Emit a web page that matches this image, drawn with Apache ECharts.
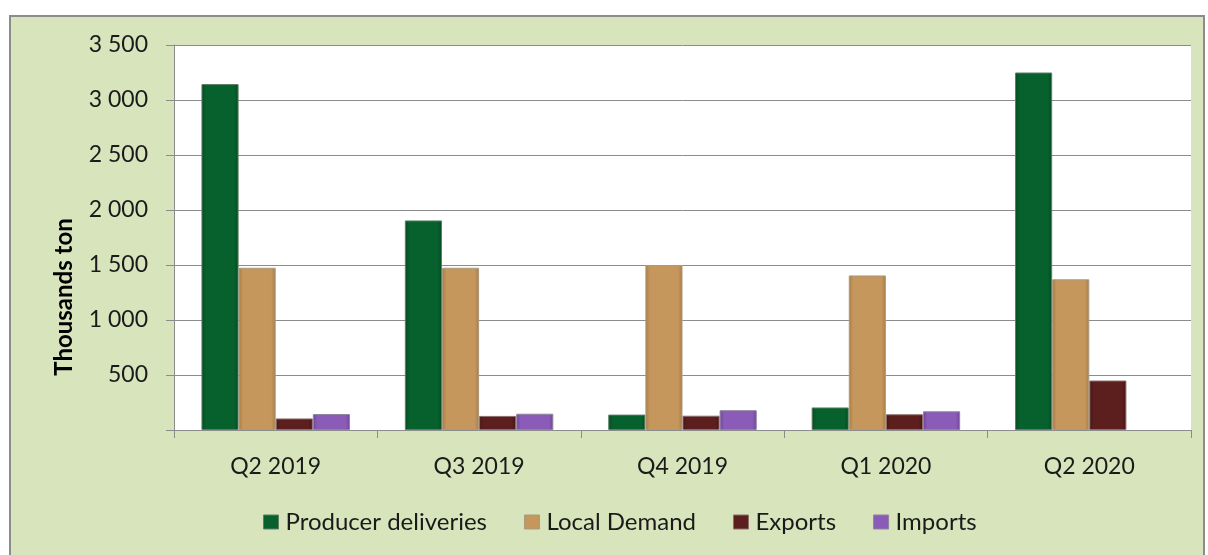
<!DOCTYPE html>
<html>
<head>
<meta charset="utf-8">
<script src="https://cdn.jsdelivr.net/npm/echarts@6/dist/echarts.min.js"></script>
<style>
html,body{margin:0;padding:0;background:#fff;}
#frame{position:absolute;left:9px;top:15px;width:1196px;height:545px;box-sizing:border-box;border:2px solid #8c8c8c;background:#D8E4BC;}
#chart{position:absolute;left:0;top:0;width:1208px;height:555px;}
</style>
</head>
<body>
<div id="frame"></div>
<div id="chart"></div>
<script>
const categories = ['Q2 2019', 'Q3 2019', 'Q4 2019', 'Q1 2020', 'Q2 2020'];
const producerDeliveries = [3145, 1905, 140, 205, 3250];
const localDemand = [1475, 1475, 1500, 1405, 1370];
const exportsData = [105, 128, 130, 143, 450];
const importsData = [145, 148, 180, 170, null];
const yTicks = [0, 500, 1000, 1500, 2000, 2500, 3000, 3500];

const FONT = 'Lato, "Open Sans", sans-serif';

function grad(mid, dark) {
  return new echarts.graphic.LinearGradient(0, 0, 1, 0, [
    {offset: 0, color: dark}, {offset: 0.12, color: mid}, {offset: 0.88, color: mid}, {offset: 1, color: dark}
  ]);
}
const colors = [
  {mid: '#07612D', dark: '#044A21', border: '#5b7f63'},
  {mid: '#C6975C', dark: '#A87C45', border: '#a99a80'},
  {mid: '#5D1E1E', dark: '#471515', border: '#8a6e6e'},
  {mid: '#8A5CB8', dark: '#6E4596', border: '#8f83a0'}
];
const names = ['Producer deliveries', 'Local Demand', 'Exports', 'Imports'];
const datas = [producerDeliveries, localDemand, exportsData, importsData];

const chart = echarts.init(document.getElementById('chart'), null, {renderer: 'canvas'});
chart.setOption({
  backgroundColor: 'transparent',
  animation: false,
  textStyle: {fontFamily: FONT},
  grid: {left: 174, top: 45, right: 17, bottom: 125, show: true, backgroundColor: '#ffffff', borderWidth: 0},
  legend: {
    top: 505, left: 258, itemGap: 37, itemWidth: 15, itemHeight: 14, icon: 'rect',
    textStyle: {fontFamily: FONT, fontSize: 24, color: '#1a1a1a', padding: [0, 0, 0, 2]},
    data: names.map((n, i) => ({name: n, itemStyle: {color: colors[i].mid, borderColor: colors[i].border, borderWidth: 1}}))
  },
  xAxis: {
    type: 'category', data: categories,
    axisLine: {show: true, lineStyle: {color: '#8c8c8c', width: 1}},
    axisTick: {show: true, length: 8, alignWithLabel: false, lineStyle: {color: '#8c8c8c'}},
    axisLabel: {fontFamily: FONT, fontSize: 23, color: '#1a1a1a', margin: 25}
  },
  yAxis: {
    type: 'value', min: yTicks[0], max: yTicks[yTicks.length - 1], interval: 500,
    axisLine: {show: true, lineStyle: {color: '#8c8c8c', width: 1}},
    axisTick: {show: true, length: 8, lineStyle: {color: '#8c8c8c'}},
    splitLine: {show: true, lineStyle: {color: '#8c8c8c', width: 1}},
    axisLabel: {
      fontFamily: FONT, fontSize: 23, color: '#1a1a1a', margin: 26,
      formatter: v => v === 0 ? '' : String(v).replace(/\B(?=(\d{3})+(?!\d))/g, ' ')
    }
  },
  graphic: [{
    type: 'text', x: 64, y: 297, rotation: Math.PI / 2,
    style: {text: 'Thousands ton', fontFamily: FONT, fontSize: 24, fontWeight: 'bold', fill: '#000', align: 'center', verticalAlign: 'middle'}
  }],
  series: names.map((n, i) => ({
    name: n, type: 'bar', data: datas[i],
    barGap: '0%', barCategoryGap: '27%',
    itemStyle: {color: grad(colors[i].mid, colors[i].dark), borderColor: colors[i].border, borderWidth: 1}
  }))
});
</script>
</body>
</html>
